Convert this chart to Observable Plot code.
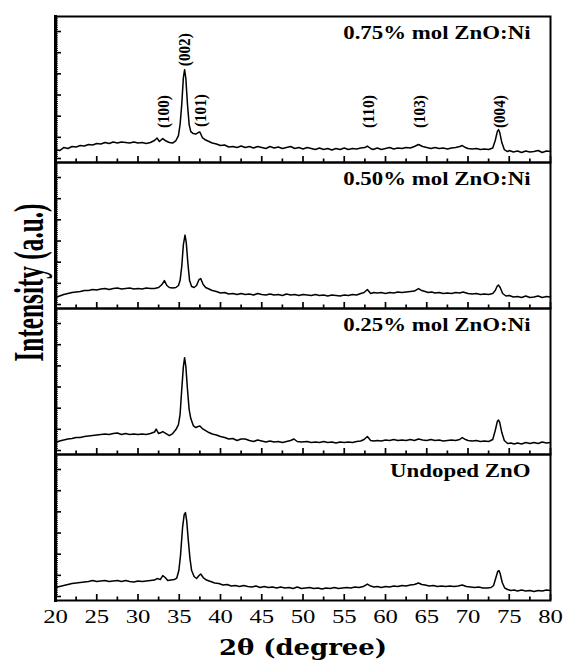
<!DOCTYPE html>
<html>
<head>
<meta charset="utf-8">
<script src="https://cdn.jsdelivr.net/npm/d3@7"></script>
<script src="https://cdn.jsdelivr.net/npm/@observablehq/plot@0.6"></script>
<style>
  html, body { margin: 0; padding: 0; background: #fff; }
  #chart { width: 565px; height: 661px; }
</style>
</head>
<body>
<div id="chart"></div>
<script>
// ---- Data ----
const samples = ["0.75% mol ZnO:Ni", "0.50% mol ZnO:Ni", "0.25% mol ZnO:Ni", "Undoped ZnO"];

const xTicks = [20, 25, 30, 35, 40, 45, 50, 55, 60, 65, 70, 75, 80];

const peakLabels = ["(100)", "(002)", "(101)", "(110)", "(103)", "(004)"];
const peakX      = [33.1, 35.6, 37.6, 57.9, 64.1, 73.8];
const peakY      = [51, 113, 52, 51, 51, 51];

const zno075 = [[20,13],[20.5,12],[21,15],[21.5,14],[22,16],[22.5,15.5],[23,17],[23.5,16.5],[24,18],[24.5,17.5],[25,19],[25.5,18.5],[26,20],[26.5,19],[27,20.5],[27.5,19.5],[28,20.5],[28.5,20],[29,19.5],[29.5,20.5],[30,19.5],[30.5,20],[31,19],[31.5,20],[32,22],[32.3,24.5],[32.6,21],[33,24],[33.4,21.5],[33.8,20],[34.2,19.5],[34.6,22],[34.9,27],[35.1,38],[35.3,58],[35.5,85],[35.65,93],[35.8,84],[36,58],[36.2,38],[36.4,31],[36.7,29],[37,28.5],[37.3,30],[37.5,30.5],[37.8,25],[38.2,22.5],[38.6,21],[39,19.5],[39.5,18.5],[40,17],[40.5,17.5],[41,15.5],[41.5,16],[42,15],[42.5,16.5],[43,15],[43.5,16],[44,14.5],[44.5,16],[45,15],[45.5,14],[46,16],[46.5,14.5],[47,15.5],[47.5,14],[48,15],[48.5,16],[49,14],[49.5,15],[50,13.5],[50.5,15],[51,14],[51.5,13],[52,14.5],[52.5,13],[53,14],[53.5,12.5],[54,14],[54.5,13],[55,14.5],[55.5,13],[56,14],[56.5,13.5],[57,14.5],[57.5,15],[57.8,16.5],[58.2,14],[58.5,13],[59,14.5],[59.5,13],[60,14],[60.5,15],[61,13.5],[61.5,14.5],[62,14],[62.5,15],[63,14.5],[63.5,16],[64,18],[64.5,16],[65,15],[65.5,14],[66,15],[66.5,14],[67,14.5],[67.5,13.5],[68,14.5],[68.5,15],[69,16],[69.3,17],[69.7,15],[70,14],[70.5,13.5],[71,14],[71.5,13],[72,13.5],[72.5,13],[73,14.5],[73.3,22],[73.55,31],[73.7,33],[73.85,30],[74.1,20],[74.4,13],[74.8,11],[75,12],[75.5,10.5],[76,11.5],[76.5,10],[77,11.5],[77.5,10.5],[78,11],[78.5,12],[79,10],[79.5,11.5],[80,11]];

const zno050 = [[20,11],[20.5,12.5],[21,14],[21.5,15],[22,16],[22.5,16.5],[23,17],[23.5,18],[24,18],[24.5,19],[25,18.5],[25.5,19.5],[26,20],[26.5,19],[27,20],[27.5,20.5],[28,19.5],[28.5,20],[29,20.5],[29.5,19.5],[30,20],[30.5,19.5],[31,20.5],[31.5,20],[32,20],[32.5,21],[32.9,24],[33.2,28],[33.5,23],[33.8,21],[34.2,20.5],[34.6,21],[34.9,23],[35.1,28],[35.3,42],[35.5,64],[35.7,73.5],[35.85,66],[36.05,45],[36.25,28],[36.5,22],[36.8,21],[37.1,23],[37.4,29],[37.6,30],[37.9,24],[38.2,21],[38.6,19.5],[39,18],[39.5,17],[40,15.5],[40.5,16],[41,14.5],[41.5,15],[42,14],[42.5,15],[43,14],[43.5,14.5],[44,13.5],[44.5,15],[45,14],[45.5,13.5],[46,14.5],[46.5,13.5],[47,14],[47.5,13],[48,14.5],[48.5,13.5],[49,14],[49.5,13],[50,14],[50.5,13.5],[51,13],[51.5,14],[52,13],[52.5,13.5],[53,12.5],[53.5,13.5],[54,13],[54.5,12.5],[55,13.5],[55.5,13],[56,14],[56.5,13.5],[57,15],[57.4,16],[57.8,19],[58.2,15],[58.6,16],[59,15.5],[59.5,16],[60,15],[60.5,16],[61,15.5],[61.5,16.5],[62,16],[62.5,16.5],[63,17],[63.5,17.5],[64,20],[64.4,18],[64.8,17],[65.2,16],[65.6,16.5],[66,15.5],[66.5,16],[67,15],[67.5,15.5],[68,15],[68.5,16],[69,15.5],[69.4,16.5],[70,15],[70.5,14.5],[71,15],[71.5,14],[72,14.5],[72.5,14],[73,15],[73.3,18],[73.55,22.5],[73.7,23.5],[73.9,21],[74.2,15],[74.6,12.5],[75,13],[75.5,11.5],[76,12],[76.5,11],[77,12.5],[77.5,11],[78,11.5],[78.5,12.5],[79,11],[79.5,12],[80,11.5]];

const zno025 = [[20,12],[20.5,13.5],[21,14.5],[21.5,15.5],[22,16],[22.5,17],[23,17],[23.5,18],[24,18.5],[24.5,19],[25,19.5],[25.5,20],[26,20.5],[26.5,20],[27,21],[27.5,21.5],[28,20],[28.5,21],[29,20],[29.5,20.5],[30,20],[30.5,20.5],[31,20],[31.5,21],[32,22.5],[32.2,25.5],[32.5,21],[32.8,22],[33,23],[33.3,21.5],[33.8,19],[34.2,21],[34.6,25],[34.9,30],[35.1,40],[35.3,65],[35.5,88],[35.65,97],[35.8,88],[36,65],[36.2,45],[36.4,36],[36.7,29],[37,27],[37.3,28],[37.5,28.5],[37.8,26],[38.2,24],[38.6,22],[39,20.5],[39.5,19.5],[40,18],[40.5,17],[41,15.5],[41.5,16],[42,14],[42.5,15.5],[43,15.5],[43.5,14],[44,13],[44.5,14.5],[45,13.5],[45.5,12.5],[46,13.5],[46.5,12.5],[47,13],[47.5,12],[48,13],[48.5,14],[48.9,15.5],[49.3,13],[49.8,12.5],[50.5,13],[51,12],[51.5,12.5],[52,12],[52.5,13],[53,12],[53.5,12.5],[54,11.5],[54.5,12.5],[55,12],[55.5,12.5],[56,12],[56.5,13],[57,13.5],[57.4,15],[57.8,18],[58.2,14],[58.6,13.5],[59,14],[59.5,13.5],[60,14.5],[60.5,14],[61,15],[61.5,14],[62,14.5],[62.5,14],[63,15],[63.5,14],[64,15.5],[64.5,14.5],[65,14],[65.5,15],[66,14],[66.5,14.5],[67,13.5],[67.5,14],[68,14.5],[68.5,14],[69,15],[69.3,17],[69.7,15],[70,14],[70.5,13.5],[71,14],[71.5,13],[72,13.5],[72.5,13],[73,15],[73.3,24],[73.55,33],[73.7,34.5],[73.85,32],[74.1,22],[74.4,14],[74.8,11],[75.2,11.5],[75.6,10.5],[76,11.5],[76.5,10.5],[77,12],[77.5,11],[78,12],[78.5,11],[79,12.5],[79.5,11.5],[80,12]];

const znoUndoped = [[20,13],[20.5,14],[21,15],[21.5,16],[22,17],[22.5,17.5],[23,18],[23.5,18.5],[24,19],[24.5,20],[25,19],[25.5,19.5],[26,20],[26.5,19],[27,19.5],[27.5,20],[28,19],[28.5,20],[29,19],[29.5,18.5],[30,19.5],[30.5,19],[31,19.5],[31.5,20],[32,20.5],[32.3,22],[32.7,21],[33,25],[33.3,23],[33.6,20],[34,20.5],[34.4,21],[34.7,22.5],[34.95,30],[35.15,45],[35.4,73],[35.6,86],[35.75,88],[35.9,80],[36.1,60],[36.3,42],[36.5,30],[36.8,24],[37.1,22],[37.4,25],[37.6,26.5],[37.9,23],[38.3,20.5],[38.8,19],[39.3,17.5],[39.8,17],[40.3,15.5],[40.8,16],[41.3,14.5],[41.8,15],[42.3,14],[42.8,15],[43.3,14],[43.8,13.5],[44.3,14.5],[44.8,13],[45.3,14],[45.8,13],[46.3,13.5],[46.8,12.5],[47.3,13.5],[47.8,12.5],[48.3,13],[48.8,12],[49.3,13.5],[49.8,12],[50.3,12.5],[50.8,13],[51.3,12],[51.8,12.5],[52.3,11.5],[52.8,12.5],[53.3,12],[53.8,13],[54.3,12],[54.8,12.5],[55.3,13],[55.8,12.5],[56.3,13.5],[56.8,13],[57.3,14],[57.8,16.5],[58.2,14.5],[58.6,13.5],[59,14],[59.5,13],[60,14],[60.5,13.5],[61,14.5],[61.5,14],[62,15],[62.5,14.5],[63,15.5],[63.5,16],[64,17.5],[64.4,16],[64.8,15.5],[65.3,14.5],[65.8,15],[66.3,14],[66.8,14.5],[67.3,14],[67.8,14.5],[68.3,14],[68.8,14.5],[69.3,15.5],[69.8,14],[70.3,13.5],[70.8,13],[71.3,13.5],[71.8,12.5],[72.3,12.5],[72.8,13],[73.1,15],[73.35,22],[73.6,29],[73.75,30],[73.9,27],[74.15,18],[74.45,12.5],[74.8,11],[75.2,10],[75.6,10.5],[76,9.5],[76.5,10.5],[77,9.5],[77.5,10],[78,9],[78.5,10],[79,9.5],[79.5,10.5],[80,10]];

const series = [zno075, zno050, zno025, znoUndoped];

// ---- Tables built from the arrays ----
const rows = samples.flatMap((s, i) => series[i].map(([x, y]) => ({sample: s, x, y})));
const peaks = peakLabels.map((t, i) => ({label: t, x: peakX[i], y: peakY[i], sample: samples[0]}));

const xMinor = d3.range(22.5, 80, 5);
const yMajor = d3.range(4, 146, 21.2);
const yMinor = d3.range(4, 146.25, 2.12);

const SERIF = "Liberation Serif";

const chart = Plot.plot({
  width: 565,
  height: 661,
  marginLeft: 55,
  marginRight: 15,
  marginTop: 15,
  marginBottom: 61,
  style: {fontFamily: SERIF, fontSize: "19px", color: "black", background: "white", overflow: "visible"},
  x: {domain: [20, 80]},
  y: {domain: [0, 146.25]},
  fy: {domain: samples, padding: 0, axis: null},
  marks: [
    // inward ticks on every panel
    Plot.axisX({ticks: xTicks, tickSize: -6, tickFormat: () => "", label: null, facetAnchor: null, strokeWidth: 1.7}),
    Plot.axisX({ticks: xMinor, tickSize: -3.5, tickFormat: () => "", label: null, facetAnchor: null, strokeWidth: 1.7}),
    Plot.axisY({ticks: yMajor, tickSize: -6, tickFormat: () => "", label: null, facetAnchor: null, strokeWidth: 1.6}),
    Plot.axisY({ticks: yMinor, tickSize: -3, tickFormat: () => "", label: null, facetAnchor: null, strokeWidth: 0.9}),
    // tick labels + axis title (bottom panel only)
    Plot.axisX({ticks: xTicks, tickSize: 0, tickPadding: 9, fontSize: 19, fontFamily: SERIF, label: "2θ (degree)", labelAnchor: "center", labelArrow: "none", labelOffset: 54}),
    Plot.line(rows, {x: "x", y: "y", fy: "sample", stroke: "black", strokeWidth: 1.5, strokeLinejoin: "round"}),
    Plot.frame({stroke: "black", strokeWidth: 2}),
    Plot.frame({anchor: "left", stroke: "black", strokeWidth: 3}),
    Plot.text(samples, {fy: d => d, text: d => d, frameAnchor: "top-right", dx: -20, dy: 10, lineAnchor: "top", fontSize: 18, fontWeight: "bold", fontFamily: SERIF, fill: "black"}),
    Plot.text(peaks, {x: "x", y: "y", fy: "sample", text: "label", rotate: -90, fontSize: 17, fontWeight: "bold", fontFamily: SERIF, fill: "black"}),
    Plot.text(["Intensity (a.u.)"], {text: d => d, facet: "super", frameAnchor: "left", rotate: -90, lineAnchor: "bottom", dx: -13, dy: 53, fontSize: 42, fontWeight: "bold", fontFamily: SERIF, fill: "black"})
  ]
});

document.getElementById("chart").appendChild(chart);

// horizontal stretch of text to match the reference's wide lettering
function stretch(nodes, f) {
  nodes.forEach(t => {
    const w = t.getComputedTextLength();
    if (w > 0) { t.setAttribute("textLength", (w * f).toFixed(1)); t.setAttribute("lengthAdjust", "spacingAndGlyphs"); }
  });
}
const svg = chart.tagName === "svg" ? chart : chart.querySelector("svg");
stretch(svg.querySelectorAll('[aria-label="x-axis tick label"] text'), 1.3);
svg.querySelectorAll('[aria-label="x-axis label"] text').forEach(t => {
  t.style.fontFamily = "'DejaVu Serif', serif";
  t.style.fontWeight = "bold";
  t.style.fontSize = "22px";
  t.setAttribute("textLength", "168");
  t.setAttribute("lengthAdjust", "spacingAndGlyphs");
});
svg.querySelectorAll('[aria-label="text"] text').forEach(t => {
  const s = t.textContent;
  if (s.startsWith("Intensity")) { t.setAttribute("textLength", "158"); t.setAttribute("lengthAdjust", "spacingAndGlyphs"); }
  else if (samples.includes(s)) stretch([t], 1.27);
  else if (peakLabels.includes(s)) { t.setAttribute("textLength", "33"); t.setAttribute("lengthAdjust", "spacingAndGlyphs"); }
});
</script>
</body>
</html>
